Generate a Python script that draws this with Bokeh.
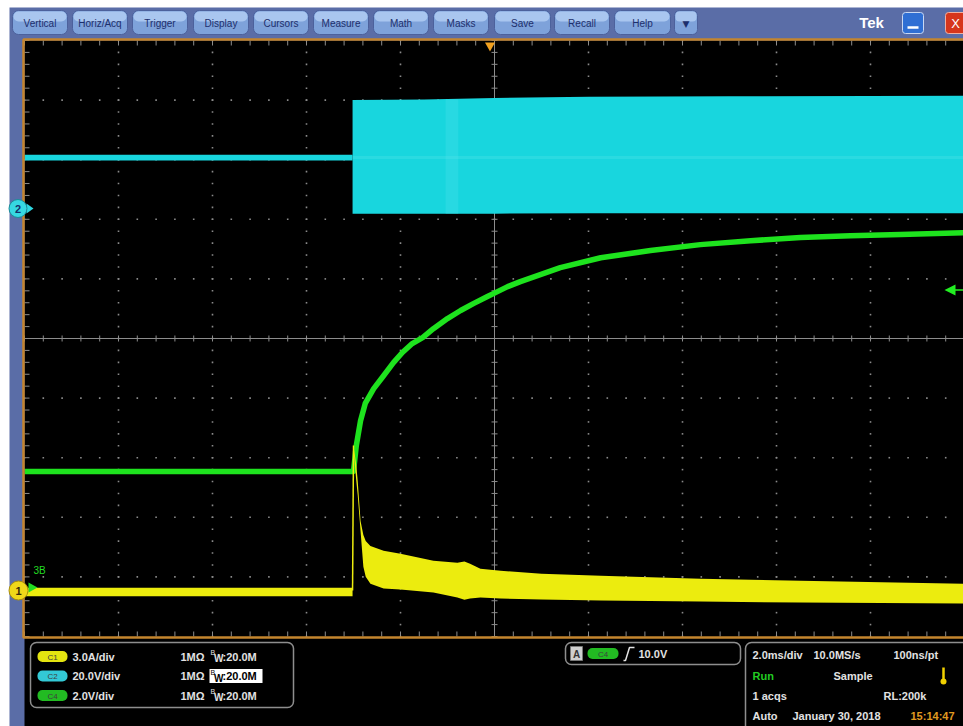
import numpy as np
from bokeh.plotting import figure
from bokeh.models import Range1d
from bokeh.core.properties import value
from bokeh.embed import file_html
from bokeh.resources import INLINE

W, H = 963, 726

# ---------------- graticule geometry (screen pixels) ----------------
GX0, GY0 = 24.0, 40.0          # top-left corner of the graticule
DX, DY = 94.0, 59.6            # pixels per division
CX, CY = GX0 + 5 * DX, GY0 + 5 * DY

# ---------------- acquisition settings ----------------
MS_PER_DIV = 2.0
C1_SCALE, C1_OFFSET = 3.0, -4.23    # A/div, position in div
C2_SCALE, C2_OFFSET = 20.0, 2.18    # V/div
C4_SCALE, C4_OFFSET = 2.0, -4.23    # V/div

# ---------------- captured traces ----------------
# C2 (switch node, V): band between low and high envelope
c2_pre_t = [-10.0, -3.02]
c2_pre_lo = [16.1, 16.1]
c2_pre_hi = [18.1, 18.1]
c2_t = [-3.02, -1.5, 0.0, 2.0, 5.0, 8.0, 10.0]
c2_lo = [-1.7, -1.7, -1.7, -1.6, -1.6, -1.6, -1.6]
c2_hi = [36.4, 36.6, 37.1, 37.5, 37.7, 37.8, 37.9]

# C4 (output voltage, V)
c4_t = [-10.0, -3.00, -2.94, -2.85, -2.75, -2.57, -2.36, -2.15, -1.96, -1.75,
        -1.53, -1.30, -1.00, -0.72, -0.45, -0.15, 0.02, 0.28, 0.55, 1.40,
        2.26, 3.32, 4.38, 5.45, 6.51, 7.57, 8.64, 10.0]
c4_v = [4.0, 4.0, 4.87, 5.70, 6.28, 6.78, 7.21, 7.65, 7.99, 8.29,
        8.49, 8.79, 9.13, 9.40, 9.63, 9.87, 10.00, 10.20, 10.37, 10.84,
        11.17, 11.41, 11.61, 11.74, 11.85, 11.91, 11.95, 12.01]

# C1 (inductor current, A)
c1_pre_t = [-10.0, -3.02]
c1_pre_lo = [-0.28, -0.28]
c1_pre_hi = [0.15, 0.15]
c1_edge_t = [-3.02, -3.00]
c1_edge_a = [0.0, 7.3]
c1_t = [-3.00, -2.94, -2.91, -2.85, -2.79, -2.74, -2.64, -2.36, -2.00, -1.30,
        -0.79, -0.64, -0.52, -0.30, 0.13, 1.00, 2.26, 4.38, 6.51, 10.0]
c1_hi = [7.30, 6.30, 5.50, 3.50, 2.80, 2.50, 2.25, 2.00, 1.85, 1.50,
         1.40, 1.47, 1.35, 1.10, 1.00, 0.85, 0.75, 0.60, 0.50, 0.35]
c1_lo = [7.10, 5.50, 4.80, 3.00, 1.20, 0.70, 0.35, 0.10, 0.05, -0.10,
         -0.35, -0.46, -0.40, -0.35, -0.40, -0.45, -0.50, -0.55, -0.60, -0.65]

# ---------------- UI text ----------------
menu_labels = ["Vertical", "Horiz/Acq", "Trigger", "Display", "Cursors", "Measure",
               "Math", "Masks", "Save", "Recall", "Help"]
menu_x0 = [12, 72, 132, 193, 253, 313, 373, 433, 494, 554, 614]
menu_x1 = [67, 127, 187, 248, 308, 368, 428, 488, 550, 609, 670]

ch_names = ["C1", "C2", "C4"]
ch_colors = ["#e4e410", "#33c9d6", "#22bb22"]
ch_scales = ["3.0A/div", "20.0V/div", "2.0V/div"]


def X(px):
    return (px - CX) / DX * MS_PER_DIV


def Y(py):
    return (CY - py) / DY


p = figure(width=W, height=H, output_backend="svg", toolbar_location=None,
           x_range=Range1d(X(0), X(W)), y_range=Range1d(Y(H), Y(0)),
           min_border=0, min_border_left=0, min_border_right=0,
           min_border_top=0, min_border_bottom=0)
p.axis.visible = False
p.grid.visible = False
p.outline_line_color = None
p.background_fill_color = "white"
p.border_fill_color = "white"

# per-channel vertical scales
for name, s, o in (("c1", C1_SCALE, C1_OFFSET), ("c2", C2_SCALE, C2_OFFSET), ("c4", C4_SCALE, C4_OFFSET)):
    p.extra_y_ranges[name] = Range1d((Y(H) - o) * s, (Y(0) - o) * s)

FONT = value("Liberation Sans")


def label(px, py, s, color="#e2e2e2", size=11, bold=True, align="left", font=FONT):
    p.text(x=[X(px)], y=[Y(py)], text=[s], text_color=color, text_font=font,
           text_font_size=value(f"{size}px"), text_font_style="bold" if bold else "normal",
           text_align=align, text_baseline="middle")


def box(x0, y0, x1, y1, **kw):
    p.quad(left=[X(x0)], right=[X(x1)], top=[Y(y0)], bottom=[Y(y1)], **kw)


# ---------------- window chrome ----------------
box(9, 7, W + 2, H + 2, fill_color="#5a6da7", line_color=None)
box(24, 40, W + 2, H + 2, fill_color="black", line_color=None)

for lab, x0, x1 in zip(menu_labels, menu_x0, menu_x1):
    box(x0, 10, x1, 34, fill_color="#7ea2da", line_color="#4c619c", line_width=1, border_radius=6)
    box(x0 + 1, 11, x1 - 1, 21, fill_color="#a9c6ef", line_color=None, border_radius=5)
    label((x0 + x1) / 2, 22.5, lab, color="#1d2f6c", size=10, bold=False, align="center")
box(674, 10, 697, 34, fill_color="#7ea2da", line_color="#4c619c", line_width=1, border_radius=5)
box(675, 11, 696, 21, fill_color="#a9c6ef", line_color=None, border_radius=4)
label(685.5, 23, "▼", color="#1d2f6c", size=9, bold=False, align="center", font=value("DejaVu Sans"))

label(871, 21.5, "Tek", color="white", size=15, bold=True, align="center")
box(902, 12, 923, 33, fill_color="#2f6fd4", line_color="#c8d8f4", line_width=1, border_radius=3)
p.segment(x0=[X(907)], y0=[Y(27)], x1=[X(918)], y1=[Y(27)], line_color="white", line_width=2.5)
box(945, 12, 968, 33, fill_color="#d6361c", line_color="#f0b0a0", line_width=1, border_radius=3)
label(955, 22.5, "X", color="white", size=13, bold=False, align="center")

# ---------------- graticule ----------------
minor_x = np.arange(-25, 26) * 0.2 * MS_PER_DIV          # ms
minor_y = np.arange(-25, 26) * 0.2                        # div
dots_x, dots_y = [], []
for k in range(-4, 5):
    if k == 0:
        continue
    dots_x += [k * MS_PER_DIV] * len(minor_y)
    dots_y += list(minor_y)
    dots_x += list(minor_x)
    dots_y += [k] * len(minor_x)
p.scatter(dots_x, dots_y, marker="square", size=1.6, color="#8a8a8a", line_color=None)

p.segment(x0=[0, -5 * MS_PER_DIV], y0=[-5, 0], x1=[0, 5 * MS_PER_DIV], y1=[5, 0],
          line_color="#8c8c8c", line_width=1)
tx = 3 * MS_PER_DIV / DX
ty = 3 / DY
p.segment(x0=[-tx] * len(minor_y), y0=minor_y, x1=[tx] * len(minor_y), y1=minor_y,
          line_color="#8c8c8c", line_width=1)
p.segment(x0=minor_x, y0=[-ty] * len(minor_x), x1=minor_x, y1=[ty] * len(minor_x),
          line_color="#8c8c8c", line_width=1)
ex = 5 * MS_PER_DIV / DX
ey = 5 / DY
xl = -5 * MS_PER_DIV
p.segment(x0=minor_x, y0=[5] * len(minor_x), x1=minor_x, y1=[5 - ey] * len(minor_x),
          line_color="#8c8c8c", line_width=1)
p.segment(x0=minor_x, y0=[-5] * len(minor_x), x1=minor_x, y1=[-5 + ey] * len(minor_x),
          line_color="#8c8c8c", line_width=1)
p.segment(x0=[xl] * len(minor_y), y0=minor_y, x1=[xl + ex] * len(minor_y), y1=minor_y,
          line_color="#8c8c8c", line_width=1)

# ---------------- traces ----------------
p.line(c4_t, c4_v, y_range_name="c4", line_color="#1ee31e", line_width=5.5,
       line_join="round")

p.varea(x=c2_pre_t, y1=c2_pre_lo, y2=c2_pre_hi, y_range_name="c2", fill_color="#18d6de")
p.varea(x=c2_t, y1=c2_lo, y2=c2_hi, y_range_name="c2", fill_color="#18d6de")
p.quad(left=[-1.04], right=[-0.77], bottom=[-1.7], top=[36.6], y_range_name="c2",
       fill_color="#4ee2ea", line_color=None, fill_alpha=0.3)
p.line([-3.02, 10.0], [17.1, 17.1], y_range_name="c2", line_color="#5ee6ec",
       line_width=3, line_alpha=0.25)

p.varea(x=c1_pre_t, y1=c1_pre_lo, y2=c1_pre_hi, y_range_name="c1", fill_color="#ecec0e")
p.line(c1_edge_t, c1_edge_a, y_range_name="c1", line_color="#ecec0e", line_width=1.5)
p.varea(x=c1_t, y1=c1_lo, y2=c1_hi, y_range_name="c1", fill_color="#ecec0e")

# ---------------- frame ----------------
box(23, 39, W + 3, 637, fill_color=None, line_color="#c4852e", line_width=2.5)

# trigger position marker and trigger level arrow
p.patch([X(484.5), X(494.5), X(489.5)], [Y(42), Y(42), Y(51)], fill_color="#f0a020", line_color=None)
p.patch([X(944), X(955), X(955)], [Y(289.5), Y(284), Y(295)], fill_color="#22ee22", line_color=None)
p.segment(x0=[X(954)], y0=[Y(289.5)], x1=[X(964)], y1=[Y(289.5)], line_color="#22ee22", line_width=1.5)

# channel ground markers
p.patch([X(26), X(33), X(26)], [Y(203), Y(208), Y(213)], fill_color="#2fd6e0", line_color=None)
p.scatter([X(17.5)], [Y(208)], marker="circle", size=18, fill_color="#36d8e2", line_color="#1c8c98")
label(17.5, 208.5, "2", color="#12306a", size=11, bold=True, align="center")

p.patch([X(28), X(37), X(28)], [Y(582), Y(587), Y(592)], fill_color="#22dd22", line_color=None)
p.scatter([X(18)], [Y(590)], marker="circle", size=19, fill_color="#f0d81a", line_color="#a88e10")
label(18, 590.5, "1", color="#3a2a08", size=11, bold=True, align="center")
label(33, 570, "3B", color="#22dd22", size=10, bold=False)

# ---------------- status panels ----------------
box(30, 642, 293, 707, fill_color="black", line_color="#8e8e8e", line_width=1.5, border_radius=6)
rows = [656, 675.5, 695]
for nm, col, sc, ry in zip(ch_names, ch_colors, ch_scales, rows):
    box(37, ry - 5.5, 67, ry + 5.5, fill_color=col, line_color=None, border_radius=5)
    label(52, ry + 0.5, nm, color="#404040", size=8, bold=False, align="center")
    label(72, ry, sc)
    label(180, ry, "1MΩ")
    if nm == "C2":
        box(209, ry - 7, 262, ry + 7, fill_color="white", line_color=None)
        tcol = "black"
    else:
        tcol = "#e2e2e2"
    label(210, ry - 4, "B", color=tcol, size=7, bold=False)
    label(213.5, ry + 2, "W", color=tcol, size=10, bold=True)
    label(222, ry, ":20.0M", color=tcol)

box(565, 642, 740, 664, fill_color="black", line_color="#8e8e8e", line_width=1.5, border_radius=6)
box(570, 646, 582, 660, fill_color="#cfcfcf", line_color="#777777", line_width=1)
label(576, 653.5, "A", color="#333333", size=10, bold=True, align="center")
box(587, 647.5, 618, 658.5, fill_color="#22bb22", line_color=None, border_radius=5)
label(602.5, 653.5, "C4", color="#404040", size=8, bold=False, align="center")
p.line([X(623), X(625), X(629), X(634)], [Y(660), Y(660), Y(647), Y(647)],
       line_color="#e2e2e2", line_width=1.5)
label(638, 653, "10.0V")

box(745, 642, W + 10, H + 10, fill_color="black", line_color="#8e8e8e", line_width=1.5, border_radius=6)
label(752, 654.5, "2.0ms/div")
label(813, 654.5, "10.0MS/s")
label(893, 654.5, "100ns/pt")
label(752, 675, "Run", color="#22cc22")
label(833, 675, "Sample")
p.segment(x0=[X(943)], y0=[Y(667)], x1=[X(943)], y1=[Y(679)], line_color="#f0d000", line_width=2.5)
p.scatter([X(943)], [Y(681)], marker="circle", size=6, fill_color="#f0d000", line_color=None)
label(752, 695.5, "1 acqs")
label(883, 695.5, "RL:200k")
label(752, 715.5, "Auto")
label(792, 715.5, "January 30, 2018")
label(910, 715.5, "15:14:47", color="#e09a20")

open("out.html", "w").write(file_html(p, INLINE))
